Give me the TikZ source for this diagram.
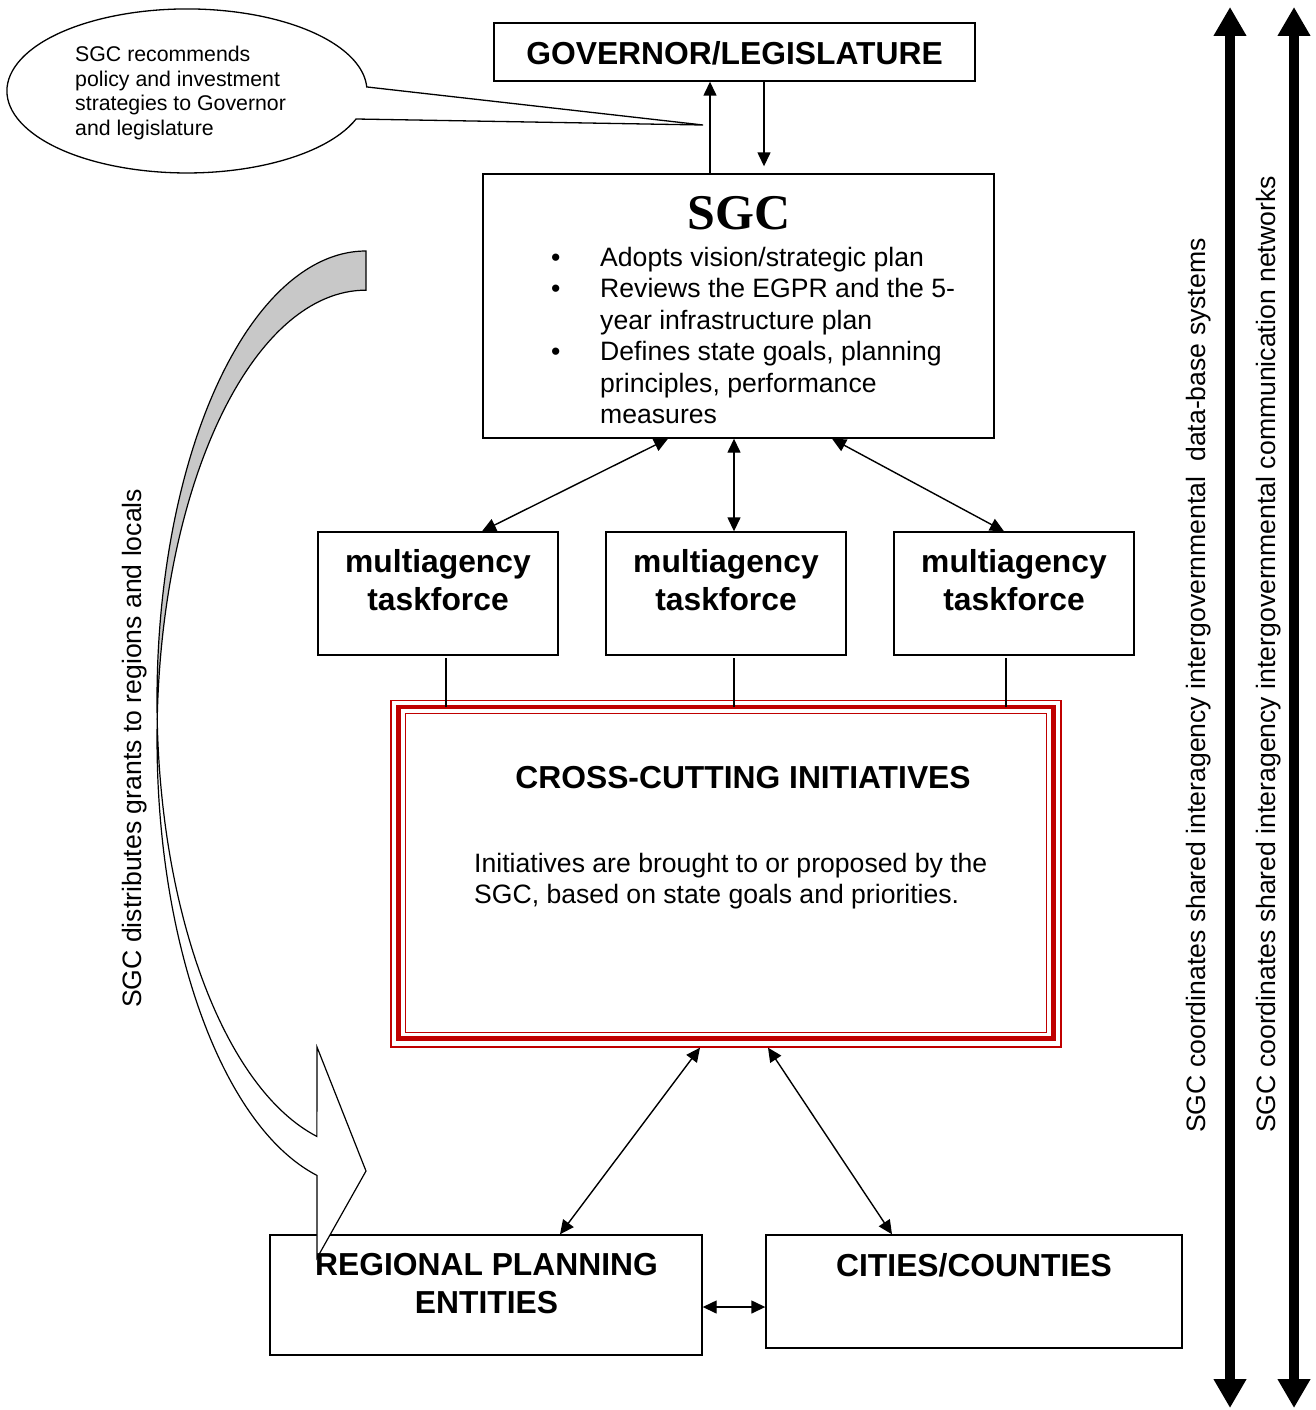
\documentclass[tikz,border=0pt]{standalone}
\usepackage{fontspec}
\setmainfont{Liberation Sans}
\newfontfamily\timesfont{Liberation Serif}
\usetikzlibrary{arrows.meta}
\definecolor{ccred}{HTML}{C00000}
\definecolor{ribbongray}{HTML}{C8C8C8}
\begin{document}
\begin{tikzpicture}[x=1pt,y=-1pt,
  box/.style={draw, line width=1.4pt, inner sep=0pt, fill=white},
  boldtxt/.style={font=\fontsize{31.8}{38}\selectfont\bfseries, inner sep=0pt, anchor=base},
  bodytxt/.style={font=\fontsize{26.6}{31.4}\selectfont, inner sep=0pt, anchor=base west},
  smalltxt/.style={font=\fontsize{21.3}{24.4}\selectfont, inner sep=0pt, anchor=base west},
  conn/.style={line width=1.4pt, >={Triangle[length=14pt,width=13pt]}},
  heavy/.style={line width=10pt, {Triangle[length=29pt,width=31pt]}-{Triangle[length=29pt,width=31pt]}},
  ribbon/.style={line width=1.2pt, draw=black},
  redline/.style={draw=ccred},
]
\useasboundingbox (0,0) rectangle (1315,1410);

% callout
\draw[line width=1.3pt, fill=white] (703,125) -- (356.1,119) arc[start angle=20, end angle=357.2, x radius=180, y radius=82] -- cycle;
\node[smalltxt] (co1) at (75,62) {SGC recommends};
\node[smalltxt] (co2) at (75,86.4) {policy and investment};
\node[smalltxt] (co3) at (75,110.8) {strategies to Governor};
\node[smalltxt] (co4) at (75,135.2) {and legislature};

% boxes
\node[box, minimum width=481pt, minimum height=58pt] (gov) at (734.5,52) {};
\node[box, minimum width=511pt, minimum height=264pt] (sgc) at (738.5,306) {};
\node[box, minimum width=240pt, minimum height=123pt] (tf1) at (438,593.5) {};
\node[box, minimum width=240pt, minimum height=123pt] (tf2) at (726,593.5) {};
\node[box, minimum width=240pt, minimum height=123pt] (tf3) at (1014,593.5) {};
\node[box, minimum width=432pt, minimum height=120pt] (reg) at (486,1295) {};
\node[box, minimum width=416pt, minimum height=113pt] (city) at (974,1291.5) {};

% cross-cutting box with triple red border
\node[draw=ccred, line width=1.3pt, inner sep=0pt, minimum width=670pt, minimum height=346.5pt] (cc) at (726,873.75) {};
\draw[redline, line width=4.5pt] (398.5,707) rectangle (1053.5,1038.5);
\draw[redline, line width=1.3pt] (405.5,713.5) rectangle (1046.5,1032.5);

% connectors
\draw[conn,->] (710,0 |- sgc.north) -- (710,0 |- gov.south);
\draw[conn,->,shorten >=7pt] (764,0 |- gov.south) -- (764,0 |- sgc.north);
\draw[conn,<->] (668,0 |- sgc.south) -- (482,0 |- tf1.north);
\draw[conn,<->] (734,0 |- sgc.south) -- (734,0 |- tf2.north);
\draw[conn,<->] (832,0 |- sgc.south) -- (1004,0 |- tf3.north);
\draw[conn,shorten >=-7pt] (446,658) -- (446,0 |- cc.north);
\draw[conn,shorten >=-7pt] (734,658) -- (734,0 |- cc.north);
\draw[conn,shorten >=-7pt] (1006,658) -- (1006,0 |- cc.north);
\draw[conn,<->] (700,0 |- cc.south) -- (560,0 |- reg.north);
\draw[conn,<->] (768,0 |- cc.south) -- (892,0 |- city.north);
\draw[conn,<->] (reg.east |- 0,1307) -- (city.west |- 0,1307);

% curved ribbon arrow
\draw[ribbon, fill=ribbongray] (366,251) arc[start angle=-90, end angle=-182.5, x radius=209, y radius=449]
  arc[start angle=-177.5, end angle=-90, x radius=209, y radius=449] -- cycle;
\draw[ribbon, fill=white] (157.2,719.6) arc[start angle=-182.5, end angle=-256.4, x radius=209, y radius=449]
  -- (317,1047) -- (366,1171) -- (317,1258) -- (316.9,1175.4)
  arc[start angle=-256.4, end angle=-177.5, x radius=209, y radius=449] -- cycle;

% heavy arrows on the right
\coordinate (h1t) at (1230,7);
\coordinate (h1b) at (1230,1408);
\coordinate (h2t) at (1294,7);
\coordinate (h2b) at (1294,1408);
\draw[heavy] (h1b) -- (h1t);
\draw[heavy] (h2b) -- (h2t);

% texts
\node[boldtxt] (govt) at (734.5,65) {GOVERNOR/LEGISLATURE};
\node[font=\fontsize{50}{50}\timesfont\bfseries, inner sep=0pt, anchor=base] (sgct) at (739,229) {SGC};
\node[bodytxt] (b1) at (551,266) {\makebox[49pt][l]{\textbullet}Adopts vision/strategic plan};
\node[bodytxt] (b2) at (551,297.5) {\makebox[49pt][l]{\textbullet}Reviews the EGPR and the 5-};
\node[bodytxt] (b3) at (600,329) {year infrastructure plan};
\node[bodytxt] (b4) at (551,360.5) {\makebox[49pt][l]{\textbullet}Defines state goals, planning};
\node[bodytxt] (b5) at (600,392) {principles, performance};
\node[bodytxt] (b6) at (600,423) {measures};

\node[boldtxt] (tf1a) at (438,572) {multiagency};
\node[boldtxt] (tf1b) at (438,610) {taskforce};
\node[boldtxt] (tf2a) at (726,572) {multiagency};
\node[boldtxt] (tf2b) at (726,610) {taskforce};
\node[boldtxt] (tf3a) at (1014,572) {multiagency};
\node[boldtxt] (tf3b) at (1014,610) {taskforce};

\node[boldtxt] (cct) at (743,788) {CROSS-CUTTING INITIATIVES};
\node[bodytxt] (cc1) at (474,872) {Initiatives are brought to or proposed by the};
\node[bodytxt] (cc2) at (474,903) {SGC, based on state goals and priorities.};

\node[boldtxt] (rega) at (486.5,1275) {REGIONAL PLANNING};
\node[boldtxt] (regb) at (486.5,1313) {ENTITIES};
\node[boldtxt] (cityt) at (974,1276) {CITIES/COUNTIES};

\node[bodytxt, rotate=90] (grants) at (141,1008) {SGC distributes grants to regions and locals};
\node[bodytxt, rotate=90] (db) at (1205,1133) {SGC coordinates shared interagency intergovernmental\ \ data-base systems};
\node[bodytxt, rotate=90] (net) at (1275,1133) {SGC coordinates shared interagency intergovernmental communication networks};
\end{tikzpicture}
\end{document}
